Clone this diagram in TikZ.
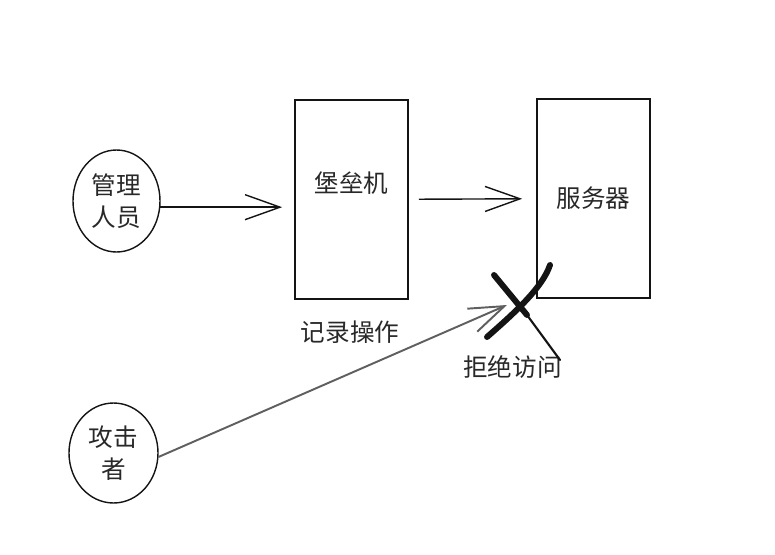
\documentclass[tikz,border=0pt]{standalone}
\usepackage{fontspec}
\newfontfamily\cjk{Noto Sans CJK SC}
\usetikzlibrary{arrows.meta,shapes.geometric,calc}
\definecolor{ink}{RGB}{20,20,20}
\definecolor{lead}{RGB}{40,40,40}
\definecolor{slate}{RGB}{95,95,95}
\tikzset{
  >={Straight Barb[length=7mm,width=5mm]},
  txt/.style={font=\cjk\fontsize{14}{18.5}\selectfont,text=lead,align=center},
  actor/.style={ellipse,draw=ink,thick,minimum width=#1,inner sep=0pt,txt},
  box/.style={draw=ink,line width=1pt,minimum width=22.6mm,minimum height=39.8mm,txt},
  flow/.style={->,draw=#1,thick},
  flow/.default=ink,
  cross/.style={draw=ink,line width=#1,line cap=round},
  cross/.default=3.4pt,
}
\begin{document}
\begin{tikzpicture}
    \useasboundingbox (0,0) rectangle (15.5,-11.08);
    % actors
    \node[actor=17.4mm,minimum height=20.4mm] (admin) at (2.33,-4.02) {管理\\人员};
    \node[actor=17.8mm,minimum height=20mm] (attacker) at (2.27,-9.06) {攻击\\者};
    % machines
    \node[box,label={[txt,yshift=0.33cm]center:堡垒机}] (bastion) at (7.03,-3.99) {};
    \node[box] (server) at (11.87,-3.97) {服务器};
    \node[txt] (log) at (7.0,-6.64) {记录操作};
    \node[txt] (deny) at (10.25,-7.34) {拒绝访问};
    \coordinate (block) at (10.14,-6.1);
    % flows
    \draw[flow,shorten >=0.24cm] (admin.-8) -- (admin.-8 -| bastion.west);
    \draw[flow,shorten <=0.2cm,shorten >=0.28cm] (bastion) -- (server);
    \draw[flow=slate,line width=1.1pt] (attacker.-5) -- (block);
    % blocked
    \draw[cross] (9.88,-5.5) -- (10.54,-6.3);
    \draw[cross=1.2pt] (10.54,-6.3) -- (11.2,-7.2);
    \draw[cross] (11.0,-5.3) .. controls (10.85,-5.75) and (10.3,-6.25) .. (9.74,-6.74);
\end{tikzpicture}
\end{document}
